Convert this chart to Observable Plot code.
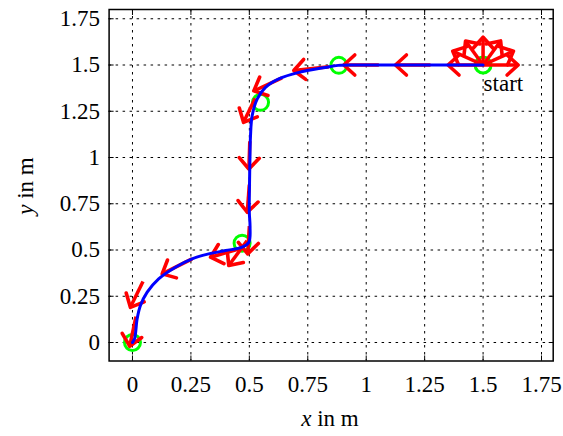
<!DOCTYPE html>
<html><head><meta charset="utf-8">
<script src="https://cdn.jsdelivr.net/npm/d3@7"></script>
<script src="https://cdn.jsdelivr.net/npm/@observablehq/plot@0.6"></script>
<style>body{margin:0;background:#fff} svg{display:block}</style>
</head><body><div id="chart"></div>
<script>
const ticks = [0, 0.25, 0.5, 0.75, 1, 1.25, 1.5, 1.75];
const tickLabels = ["0", "0.25", "0.5", "0.75", "1", "1.25", "1.5", "1.75"];
const xLabel = ["x", " in m"];
const yLabel = ["y", " in m"];

// robot path (blue)
const pathX = [1.5, 1.2, 1.0, 0.954, 0.88, 0.826, 0.712, 0.626, 0.569, 0.534, 0.512, 0.505, 0.502, 0.5, 0.5, 0.503, 0.498, 0.469, 0.398, 0.326, 0.255, 0.184, 0.112, 0.063, 0.034, 0.02, 0.009, 0.0];
const pathY = [1.5, 1.5, 1.5, 1.5, 1.498, 1.487, 1.46, 1.425, 1.379, 1.317, 1.226, 1.118, 0.95, 0.8, 0.7, 0.627, 0.542, 0.515, 0.497, 0.479, 0.452, 0.407, 0.344, 0.272, 0.2, 0.128, 0.02, 0.0];

// heading arrows (red): tails and heads
const arrowTailX = [1.5, 1.5, 1.5, 1.5, 1.5, 1.5, 1.5, 1.275, 1.054, 0.84, 0.64, 0.525, 0.502, 0.5, 0.5, 0.49, 0.48, 0.255, 0.045, 0.015];
const arrowTailY = [1.5, 1.5, 1.5, 1.5, 1.5, 1.5, 1.5, 1.5, 1.5, 1.49, 1.43, 1.32, 1.088, 0.854, 0.629, 0.55, 0.515, 0.452, 0.33, 0.14];
const arrowHeadX = [1.65, 1.63, 1.575, 1.5, 1.425, 1.37, 1.35, 1.125, 0.904, 0.69, 0.519, 0.475, 0.498, 0.491, 0.493, 0.412, 0.334, 0.127, -0.009, -0.012];
const arrowHeadY = [1.5, 1.575, 1.63, 1.65, 1.63, 1.575, 1.5, 1.5, 1.5, 1.47, 1.36, 1.19, 0.938, 0.704, 0.479, 0.416, 0.461, 0.371, 0.19, -0.02];

// waypoints (green circles)
const wayX = [1.5, 0.883, 0.548, 0.469, 0.0];
const wayY = [1.5, 1.498, 1.298, 0.537, 0.0];

const startLabel = "start";

const W = 563, H = 436, mL = 108.6, mR = 10.3, mT = 9, mB = 75.5;
const xDomain = [-0.1, 1.8], yDomain = [-0.1, 1.8];
const kx = (W - mL - mR) / (xDomain[1] - xDomain[0]);
const ky = (H - mT - mB) / (yDomain[1] - yDomain[0]);

const path = pathX.map((x, i) => ({x, y: pathY[i]}));
const arrows = arrowTailX.map((x, i) => {
  const x2 = arrowHeadX[i], y2 = arrowHeadY[i], y1 = arrowTailY[i];
  return {x1: x, y1, x2, y2, rot: Math.atan2((x2 - x) * kx, (y2 - y1) * ky) * 180 / Math.PI};
});
const ways = wayX.map((x, i) => ({x, y: wayY[i]}));
const fmt = d => tickLabels[ticks.indexOf(d)];
const grid = {stroke: "#000", strokeOpacity: 1, strokeWidth: 1, strokeDasharray: "2.5,4.5"};
const chevron = {
  draw(context) {
    context.moveTo(-10, 11);
    context.lineTo(0, 0);
    context.lineTo(10, 11);
  }
};

const plot = Plot.plot({
  width: W, height: H,
  marginLeft: mL, marginRight: mR, marginTop: mT, marginBottom: mB,
  x: {domain: xDomain},
  y: {domain: yDomain},
  style: {fontFamily: "'Liberation Serif', 'Times New Roman', serif", fontSize: "23px", color: "#000", background: "#fff"},
  marks: [
    Plot.gridX(ticks, grid),
    Plot.gridY(ticks, grid),
    Plot.axisX(ticks, {anchor: "bottom", tickSize: 0, tickPadding: 15, tickFormat: fmt, label: null, fontSize: 23}),
    Plot.axisY(ticks, {anchor: "left", tickSize: 0, tickPadding: 9, tickFormat: fmt, label: null, fontSize: 23}),
    Plot.axisX(ticks, {anchor: "bottom", tickSize: -5, tickFormat: () => "", label: null}),
    Plot.axisX(ticks, {anchor: "top", tickSize: -5, tickFormat: () => "", label: null}),
    Plot.axisY(ticks, {anchor: "left", tickSize: -5, tickFormat: () => "", label: null}),
    Plot.axisY(ticks, {anchor: "right", tickSize: -5, tickFormat: () => "", label: null}),
    Plot.dot(ways, {x: "x", y: "y", r: 8, stroke: "#00ff00", strokeWidth: 3, fill: "none"}),
    Plot.link(arrows, {x1: "x1", y1: "y1", x2: "x2", y2: "y2", stroke: "#ff0000", strokeWidth: 3.5}),
    Plot.vector(arrows, {x: "x2", y: "y2", rotate: "rot", anchor: "start", shape: chevron, stroke: "#ff0000", strokeWidth: 3.6, strokeLinejoin: "round", strokeLinecap: "round"}),
    Plot.line(path, {x: "x", y: "y", stroke: "#0000ff", strokeWidth: 3, curve: "catmull-rom"}),
    Plot.text([{x: pathX[0], y: pathY[0], t: startLabel}], {x: "x", y: "y", text: "t", textAnchor: "start", dx: 0.5, dy: 19, fontSize: 23, fill: "#000"}),
    Plot.frame({stroke: "#000", strokeWidth: 1.5})
  ]
});

const svg = d3.select(plot);
const fam = "'Liberation Serif', 'Times New Roman', serif";
const xl = svg.append("text").attr("x", 330).attr("y", 426).attr("text-anchor", "middle")
  .attr("font-family", fam).attr("font-size", 23).attr("fill", "#000");
xl.append("tspan").attr("font-style", "italic").text(xLabel[0]);
xl.append("tspan").text(xLabel[1]);
const yl = svg.append("text").attr("transform", "translate(33,186) rotate(-90)").attr("text-anchor", "middle")
  .attr("font-family", fam).attr("font-size", 23).attr("fill", "#000");
yl.append("tspan").attr("font-style", "italic").text(yLabel[0]);
yl.append("tspan").text(yLabel[1]);

document.getElementById("chart").append(plot);
</script>
</body></html>
